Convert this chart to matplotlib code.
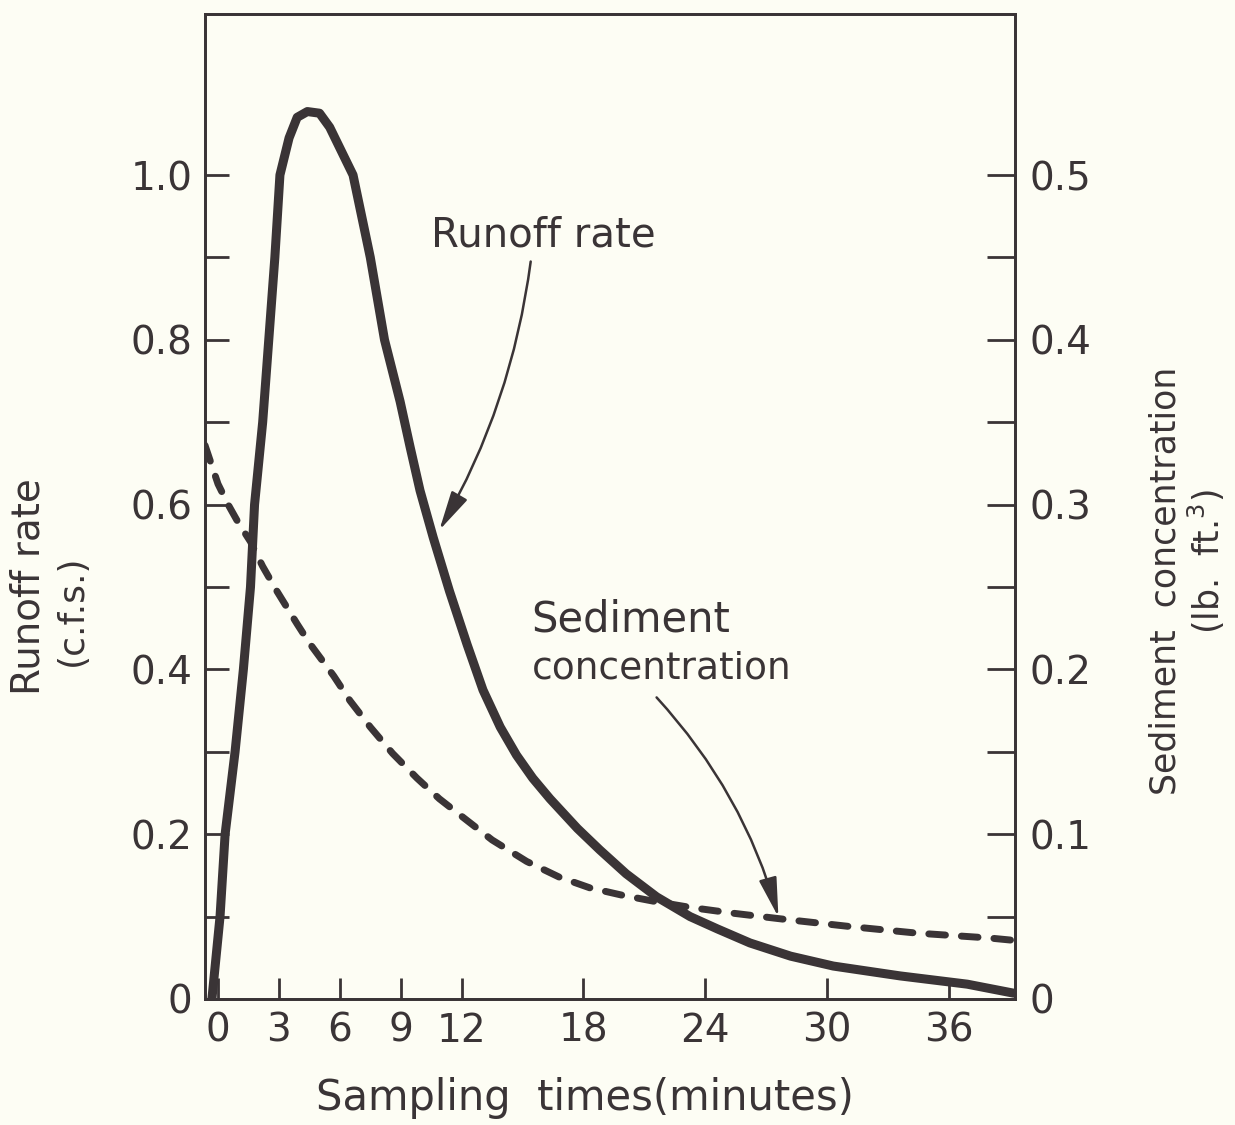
import matplotlib
matplotlib.use("Agg")
import matplotlib.pyplot as plt

plt.rcParams['font.family'] = ['DejaVu Sans']
plt.rcParams['mathtext.default'] = 'regular'

# runoff rate (c.f.s.)
runoff_t = [-0.3, 0.1, 0.35, 0.84, 1.25, 1.6, 1.8, 2.2, 2.5, 2.8, 3.05, 3.5, 3.9,
            4.4, 5.0, 5.5, 6.65, 7.5, 8.2, 8.97, 9.46, 9.95, 10.6, 11.4, 12.27,
            13.05, 13.9, 14.7, 15.5, 16.35, 17.7, 18.8, 20.1, 21.6, 23.25, 24.6,
            26.2, 28.2, 30.3, 33.6, 36.9, 39.2]
runoff = [0.0, 0.1, 0.2, 0.3, 0.4, 0.5, 0.6, 0.7, 0.8, 0.9, 1.0, 1.045, 1.07,
          1.077, 1.075, 1.058, 1.0, 0.9, 0.8, 0.725, 0.67, 0.617, 0.56, 0.495, 0.43,
          0.375, 0.33, 0.296, 0.268, 0.243, 0.207, 0.181, 0.152, 0.124, 0.1, 0.085,
          0.068, 0.052, 0.04, 0.028, 0.018, 0.007]

# sediment concentration (lb/ft3) on the right axis
sed_t = [-0.64, 0.0, 0.5, 1.0, 1.6, 2.2, 2.9, 3.9, 4.5, 5.7, 6.5, 7.5, 8.6, 9.8,
         10.9, 12.3, 13.5, 15.2, 16.8, 18.3, 19.9, 21.6, 23.3, 25.4, 27.8, 31.1,
         34.4, 38.0, 39.26]
sediment = [0.336, 0.3125, 0.300, 0.289, 0.2775, 0.2625, 0.2475, 0.2275, 0.216,
            0.196, 0.181, 0.165, 0.149, 0.134, 0.1215, 0.108, 0.0965, 0.0835,
            0.074, 0.0675, 0.063, 0.059, 0.0555, 0.052, 0.0485, 0.044, 0.040,
            0.037, 0.0355]

x_ticks = [0, 3, 6, 9, 12, 18, 24, 30, 36]
left_ticks = [0.1 * i for i in range(0, 11)]
left_labels = ['0', '', '0.2', '', '0.4', '', '0.6', '', '0.8', '', '1.0']
right_ticks = [0.05 * i for i in range(0, 11)]
right_labels = ['0', '', '0.1', '', '0.2', '', '0.3', '', '0.4', '', '0.5']

ink = '#3a3436'
paper = '#fdfdf4'

fig = plt.figure(figsize=(12.35, 11.25), dpi=100, facecolor=paper)
ax = fig.add_axes([0.166, 0.112, 0.656, 0.876])
ax.set_facecolor(paper)
ax2 = ax.twinx()

ax.plot(runoff_t, runoff, color=ink, lw=6.5, solid_capstyle='round',
        solid_joinstyle='round', zorder=3)
ax2.plot(sed_t, sediment, color=ink, lw=5, linestyle=(0, (2.4, 2.3)),
         dash_capstyle='round', zorder=3)

ax.set_xlim(-0.64, 39.26)
ax.set_ylim(0, 1.196)
ax2.set_ylim(0, 0.598)

ax.set_xticks(x_ticks)
ax.set_xticklabels([str(v) for v in x_ticks])
ax.set_yticks(left_ticks)
ax.set_yticklabels(left_labels)
ax2.set_yticks(right_ticks)
ax2.set_yticklabels(right_labels)

ax.tick_params(axis='x', direction='in', length=15, width=2, pad=9,
               labelsize=28, colors=ink)
ax.tick_params(axis='y', direction='in', length=17, width=2, pad=9,
               labelsize=28, colors=ink)
ax2.tick_params(axis='y', direction='in', length=20, width=2, pad=10,
                labelsize=28, colors=ink)

for a in (ax, ax2):
    for s in a.spines.values():
        s.set_color(ink)
        s.set_linewidth(2)

# annotations
ax.text(16.0, 0.927, 'Runoff rate', fontsize=29, color=ink,
        ha='center', va='center')
ax.annotate('', xy=(10.9, 0.569), xytext=(15.4, 0.895),
            arrowprops=dict(arrowstyle='-|>,head_length=1.1,head_width=0.25',
                            connectionstyle='arc3,rad=-0.1', color=ink, lw=1.8,
                            mutation_scale=22, shrinkA=0, shrinkB=0))

ax.text(15.45, 0.46, 'Sediment', fontsize=30, color=ink,
        ha='left', va='center')
ax.text(15.45, 0.401, 'concentration', fontsize=27, color=ink,
        ha='left', va='center')
ax.annotate('', xy=(27.6, 0.0995), xytext=(21.6, 0.366),
            arrowprops=dict(arrowstyle='-|>,head_length=1.1,head_width=0.25',
                            connectionstyle='arc3,rad=-0.12', color=ink, lw=1.8,
                            mutation_scale=22, shrinkA=0, shrinkB=0))

# axis titles
fig.text(0.023, 0.479, 'Runoff rate', rotation=90, fontsize=28, color=ink,
         ha='center', va='center')
fig.text(0.058, 0.458, '(c.f.s.)', rotation=90, fontsize=26, color=ink,
         ha='center', va='center')
fig.text(0.944, 0.484, 'Sediment  concentration', rotation=90, fontsize=25,
         color=ink, ha='center', va='center')
fig.text(0.977, 0.501, '(lb.  ft.$^{3}$)', rotation=90, fontsize=25, color=ink,
         ha='center', va='center')
fig.text(0.474, 0.024, 'Sampling  times(minutes)', fontsize=30, color=ink,
         ha='center', va='center')

fig.savefig('out.png', dpi=100, facecolor=paper)
